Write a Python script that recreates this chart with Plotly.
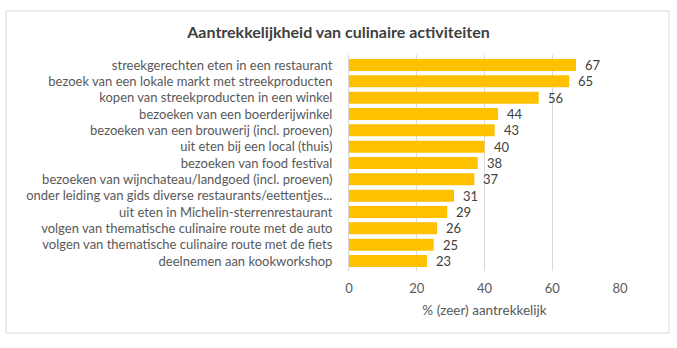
import plotly.graph_objects as go

categories = [
    "streekgerechten eten in een restaurant",
    "bezoek van een lokale markt met streekproducten",
    "kopen van streekproducten in een winkel",
    "bezoeken van een boerderijwinkel",
    "bezoeken van een brouwerij (incl. proeven)",
    "uit eten bij een local (thuis)",
    "bezoeken van food festival",
    "bezoeken van wijnchateau/landgoed (incl. proeven)",
    "onder leiding van gids diverse restaurants/eettentjes...",
    "uit eten in Michelin-sterrenrestaurant",
    "volgen van thematische culinaire route met de auto",
    "volgen van thematische culinaire route met de fiets",
    "deelnemen aan kookworkshop",
]
values = [67, 65, 56, 44, 43, 40, 38, 37, 31, 29, 26, 25, 23]
x_ticks = [0, 20, 40, 60, 80]

FONT = "Lato"
GREY = "#595959"

fig = go.Figure(go.Bar(
    y=categories, x=values, orientation="h",
    marker=dict(color="#FFC000", line=dict(width=0)),
    hoverinfo="x+y",
))

for c, v in zip(categories, values):
    fig.add_annotation(x=v, y=c, text=str(v), showarrow=False,
                       xanchor="left", yanchor="middle", xshift=7,
                       font=dict(family=FONT, size=13, color="#404040"))

fig.update_layout(
    width=677, height=348,
    margin=dict(l=349, r=57, t=55, b=77),
    paper_bgcolor="white", plot_bgcolor="white",
    bargap=0.27,
    showlegend=False,
    title=dict(text="Aantrekkelijkheid van culinaire activiteiten",
               x=0.5, xref="container", xanchor="center",
               y=1 - 32 / 348, yref="container", yanchor="middle",
               font=dict(family=FONT, size=16, color="#404040", weight="bold")),
    font=dict(family=FONT, size=12, color=GREY),
)
fig.update_xaxes(
    range=[0, 80], tickvals=x_ticks, showgrid=True, gridcolor="#d9d9d9", gridwidth=1,
    zeroline=False, showline=False, ticks="",
    ticklabelstandoff=8,
    tickfont=dict(family=FONT, size=13, color=GREY),
    title=dict(text="% (zeer) aantrekkelijk", font=dict(family=FONT, size=13.5, color=GREY), standoff=10),
)
fig.update_yaxes(
    autorange="reversed", showgrid=False, zeroline=False,
    showline=True, linecolor="#d9d9d9", linewidth=1, ticks="",
    ticklabelstandoff=13,
    tickfont=dict(family=FONT, size=13, color=GREY),
)

pw, ph = 677 - 349 - 57, 348 - 55 - 77
fig.add_shape(type="rect", xref="paper", yref="paper",
              x0=(6 - 349) / pw, x1=(669 - 349) / pw,
              y0=(271 - 333) / ph, y1=(271 - 11) / ph,
              line=dict(color="#d9d9d9", width=1), fillcolor="rgba(0,0,0,0)", layer="below")

fig.write_html("out.html")
